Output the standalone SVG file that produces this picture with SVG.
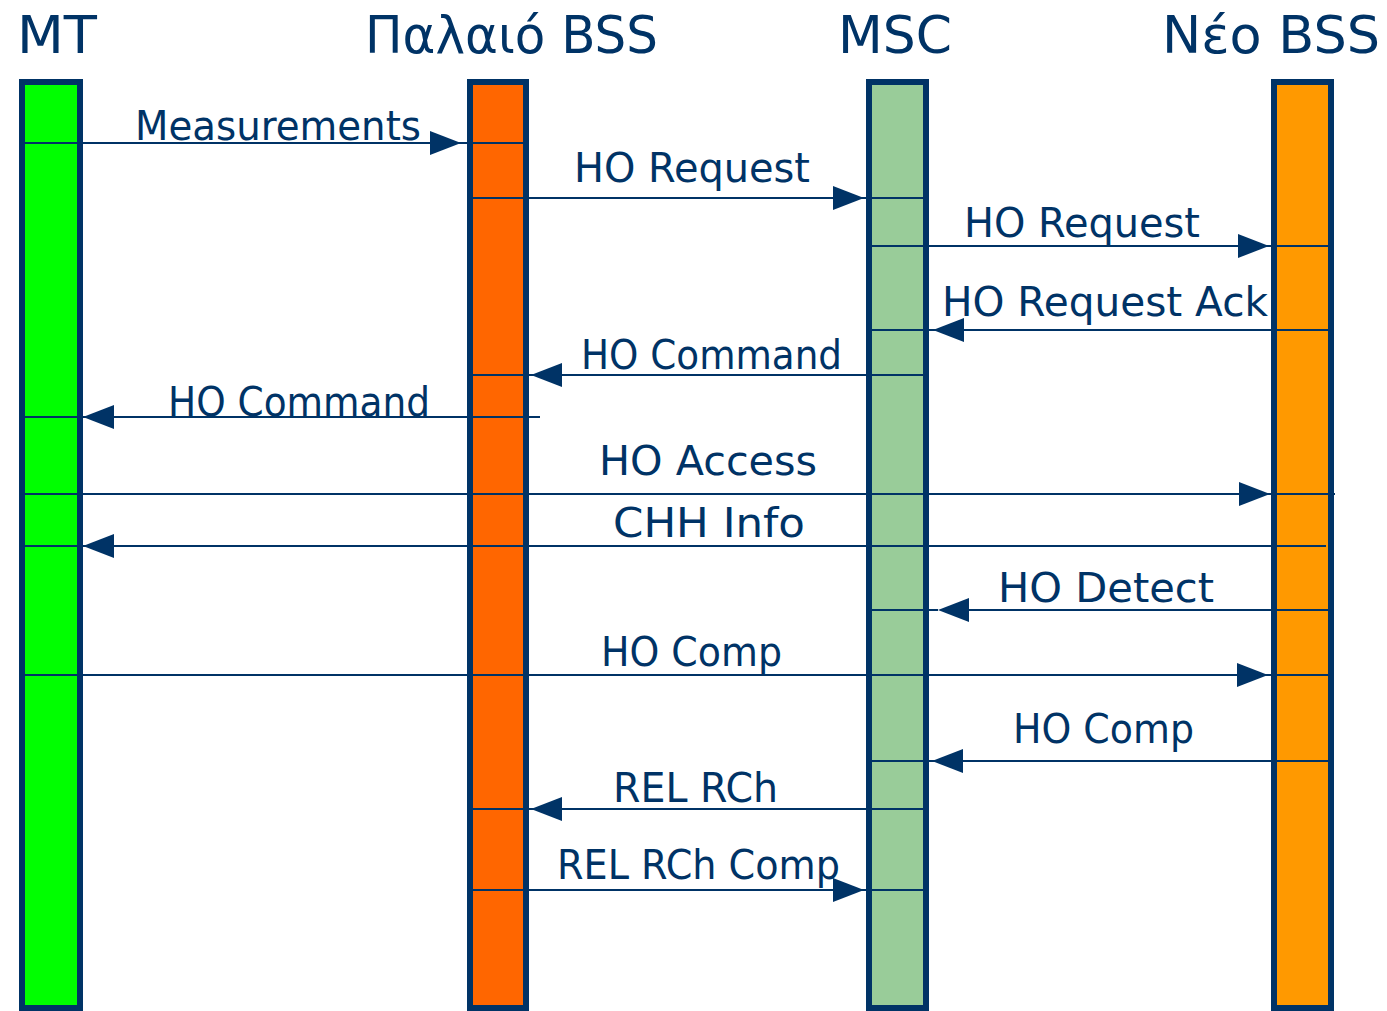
<svg xmlns="http://www.w3.org/2000/svg" xmlns:xlink="http://www.w3.org/1999/xlink" width="1387" height="1011" viewBox="0 0 1387 1011">
<style>
.bar{stroke:#003366;stroke-width:6}
.hdr{font-family:"DejaVu Sans","Noto Sans",sans-serif;font-size:52px;fill:#003366}
.lbl{font-family:"DejaVu Sans","Noto Sans",sans-serif;font-size:40px;fill:#003366}
.ln{stroke:#003366;stroke-width:2.2;fill:none}
.ah{fill:#003366}
</style>
<defs>
<path id="ahR" d="M0,0 L-31,-12 L-31,12 Z"/>
<path id="ahL" d="M0,0 L31,-12 L31,12 Z"/>
</defs>
<rect width="1387" height="1011" fill="#ffffff"/>
<g id="node-mt">
<rect class="bar" x="22" y="82" width="58" height="926" fill="#00FF00"/>
<text class="hdr" x="17" y="53" textLength="80" lengthAdjust="spacingAndGlyphs">MT</text>
</g>
<g id="node-old-bss">
<rect class="bar" x="470" y="82" width="56" height="926" fill="#FF6600"/>
<text class="hdr" x="365" y="53" textLength="293" lengthAdjust="spacingAndGlyphs">Παλαιό BSS</text>
</g>
<g id="node-msc">
<rect class="bar" x="869" y="82" width="57" height="926" fill="#99CC99"/>
<text class="hdr" x="838" y="53" textLength="114" lengthAdjust="spacingAndGlyphs">MSC</text>
</g>
<g id="node-new-bss">
<rect class="bar" x="1274" y="82" width="57" height="926" fill="#FF9900"/>
<text class="hdr" x="1162" y="53" textLength="218" lengthAdjust="spacingAndGlyphs">Νέο BSS</text>
</g>
<g id="connectors">
<line class="ln" x1="22" y1="143" x2="526" y2="143"/>
<use class="ah" href="#ahR" x="461" y="143"/>
<text class="lbl" x="135" y="140" textLength="286" lengthAdjust="spacingAndGlyphs">Measurements</text>

<line class="ln" x1="470" y1="198" x2="926" y2="198"/>
<use class="ah" href="#ahR" x="864" y="198"/>
<text class="lbl" x="574" y="182" textLength="236" lengthAdjust="spacingAndGlyphs">HO Request</text>

<line class="ln" x1="869" y1="246" x2="1331" y2="246"/>
<use class="ah" href="#ahR" x="1269" y="246"/>
<text class="lbl" x="964" y="237" textLength="236" lengthAdjust="spacingAndGlyphs">HO Request</text>

<line class="ln" x1="869" y1="330" x2="1331" y2="330"/>
<use class="ah" href="#ahL" x="933" y="330"/>
<text class="lbl" x="942" y="316" textLength="326" lengthAdjust="spacingAndGlyphs">HO Request Ack</text>

<line class="ln" x1="470" y1="375" x2="926" y2="375"/>
<use class="ah" href="#ahL" x="531" y="375"/>
<text class="lbl" x="581" y="369" textLength="261" lengthAdjust="spacingAndGlyphs">HO Command</text>

<line class="ln" x1="22" y1="417" x2="540" y2="417"/>
<use class="ah" href="#ahL" x="83" y="417"/>
<text class="lbl" x="168" y="416" textLength="262" lengthAdjust="spacingAndGlyphs">HO Command</text>

<line class="ln" x1="22" y1="494" x2="1335" y2="494"/>
<use class="ah" href="#ahR" x="1270" y="494"/>
<text class="lbl" x="599" y="475" textLength="218" lengthAdjust="spacingAndGlyphs">HO Access</text>

<line class="ln" x1="22" y1="546" x2="1326" y2="546"/>
<use class="ah" href="#ahL" x="83" y="546"/>
<text class="lbl" x="613" y="537" textLength="192" lengthAdjust="spacingAndGlyphs">CHH Info</text>

<line class="ln" x1="869" y1="610" x2="938" y2="610"/>
<line class="ln" x1="966" y1="610" x2="1328" y2="610"/>
<use class="ah" href="#ahL" x="938" y="610"/>
<text class="lbl" x="998" y="602" textLength="216" lengthAdjust="spacingAndGlyphs">HO Detect</text>

<line class="ln" x1="22" y1="675" x2="1331" y2="675"/>
<use class="ah" href="#ahR" x="1268" y="675"/>
<text class="lbl" x="601" y="666" textLength="181" lengthAdjust="spacingAndGlyphs">HO Comp</text>

<line class="ln" x1="869" y1="761" x2="1331" y2="761"/>
<use class="ah" href="#ahL" x="932" y="761"/>
<text class="lbl" x="1013" y="743" textLength="181" lengthAdjust="spacingAndGlyphs">HO Comp</text>

<line class="ln" x1="470" y1="809" x2="926" y2="809"/>
<use class="ah" href="#ahL" x="531" y="809"/>
<text class="lbl" x="613" y="802" textLength="165" lengthAdjust="spacingAndGlyphs">REL RCh</text>

<line class="ln" x1="470" y1="890" x2="926" y2="890"/>
<use class="ah" href="#ahR" x="864" y="890"/>
<text class="lbl" x="557" y="879" textLength="283" lengthAdjust="spacingAndGlyphs">REL RCh Comp</text>
</g>
</svg>
